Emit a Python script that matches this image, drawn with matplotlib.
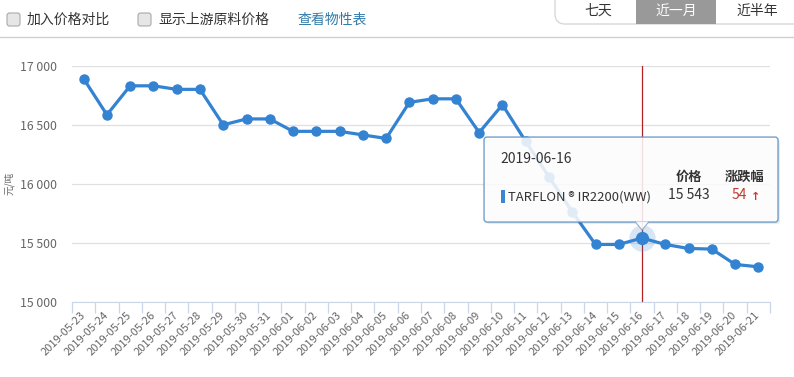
import matplotlib
matplotlib.use("Agg")
import matplotlib.pyplot as plt
from matplotlib.patches import FancyBboxPatch, Rectangle, Polygon

plt.rcParams['font.family'] = ['Noto Sans CJK SC', 'DejaVu Sans']

# 数据
dates = ["2019-05-23", "2019-05-24", "2019-05-25", "2019-05-26", "2019-05-27",
         "2019-05-28", "2019-05-29", "2019-05-30", "2019-05-31", "2019-06-01",
         "2019-06-02", "2019-06-03", "2019-06-04", "2019-06-05", "2019-06-06",
         "2019-06-07", "2019-06-08", "2019-06-09", "2019-06-10", "2019-06-11",
         "2019-06-12", "2019-06-13", "2019-06-14", "2019-06-15", "2019-06-16",
         "2019-06-17", "2019-06-18", "2019-06-19", "2019-06-20", "2019-06-21"]
prices = [16890, 16585, 16830, 16830, 16800, 16800, 16500, 16550, 16550, 16445,
          16445, 16445, 16415, 16385, 16690, 16720, 16720, 16435, 16670, 16360,
          16060, 15765, 15489, 15489, 15543, 15489, 15455, 15450, 15320, 15300]
yticks = [15000, 15500, 16000, 16500, 17000]
product = "TARFLON ® IR2200(WW)"
sel = 24  # 2019-06-16
change = prices[sel] - prices[sel - 1]

W, H = 794, 377
fig = plt.figure(figsize=(W / 100, H / 100), dpi=100)
fig.patch.set_facecolor("white")

blue = "#3482d2"
grey_txt = "#666666"

ax = fig.add_axes([72 / W, (H - 302.3) / H, 698 / W, 236.6 / H])
x = list(range(len(dates)))
ax.plot(x, prices, color=blue, lw=2.3, marker="o", ms=6.5, mfc=blue, mec=blue, zorder=3)
ax.set_xlim(-0.5, len(dates) - 0.5)
ax.set_ylim(15000, 17000)
ax.set_yticks(yticks)
ax.set_yticklabels([f"{v:,}".replace(",", " ") for v in yticks])
ax.tick_params(axis="y", length=0, pad=11, labelsize=8.8, labelcolor=grey_txt)
ax.grid(axis="y", color="#e0e0e0", lw=0.9)
ax.set_axisbelow(True)
for s in ["top", "right", "left"]:
    ax.spines[s].set_visible(False)
ax.spines["bottom"].set_color("#ccd6eb")
ax.set_xticks(x)
ax.set_xticklabels(dates, rotation=45, ha="right", va="center", rotation_mode="anchor")
ax.tick_params(axis="x", length=0, pad=8, labelsize=8, labelcolor=grey_txt)
ax.set_xticks([i - 0.5 for i in range(len(dates) + 1)], minor=True)
ax.tick_params(axis="x", which="minor", length=8, color="#ccd6eb", width=0.9)

# 十字线和高亮点
ax.axvline(sel, color="#b22222", lw=0.9, zorder=2)
ax.plot(sel, prices[sel], "o", ms=19, color=blue, alpha=0.2, mec="none", zorder=4)
ax.plot(sel, prices[sel], "o", ms=9.5, color=blue, mec="none", zorder=5)

# 覆盖层 (像素坐标)
ov = fig.add_axes([0, 0, 1, 1], zorder=10)
ov.set_xlim(0, W)
ov.set_ylim(H, 0)
ov.set_axis_off()
ov.patch.set_alpha(0)

ov.text(9, 183, "元/吨", fontsize=7, color=grey_txt, rotation=90, ha="center", va="center")

fig.canvas.draw()
px, py = ax.transData.transform((sel, prices[sel]))
py = H - py

# 顶部工具栏
for cx in [7, 138]:
    ov.add_patch(FancyBboxPatch((cx, 13), 13, 13, boxstyle="round,pad=0,rounding_size=2.5",
                                fc="#e6e6e6", ec="#a9a9a9", lw=0.8))
ov.text(27, 19.5, "加入价格对比", fontsize=10, color="#333333", va="center")
ov.text(158, 19.5, "显示上游原料价格", fontsize=10, color="#333333", va="center")
ov.text(297, 19.5, "查看物性表", fontsize=10, color="#2f7aa8", va="center")
ov.plot([0, W], [37, 37], color="#d0d0d0", lw=1)

ov.add_patch(FancyBboxPatch((555, -14), 260, 38, boxstyle="round,pad=0,rounding_size=10",
                            fc="white", ec="#d8d8d8", lw=1, clip_on=True))
ov.add_patch(Rectangle((636, -2), 80, 26, fc="#999999", ec="none"))
ov.text(598, 11, "七天", fontsize=10, color="#333333", ha="center", va="center")
ov.text(676, 11, "近一月", fontsize=10, color="white", ha="center", va="center")
ov.text(757, 11, "近半年", fontsize=10, color="#333333", ha="center", va="center")

# 提示框
tl, tr, tt, tb = px - 158, px + 136, py - 101, py - 16
ov.add_patch(FancyBboxPatch((tl + 2, tt + 2), tr - tl, tb - tt, boxstyle="round,pad=0,rounding_size=3",
                            fc="#000000", ec="none", alpha=0.08))
ov.add_patch(FancyBboxPatch((tl, tt), tr - tl, tb - tt, boxstyle="round,pad=0,rounding_size=3",
                            fc="white", ec="#5b8fc4", lw=1, alpha=0.86))
ov.add_patch(Polygon([(px - 7, tb - 0.5), (px, py - 8), (px + 7, tb - 0.5)], closed=False,
                     fc="white", ec="#8aa5c4", lw=0.8, alpha=0.9))
ov.text(tl + 16, tt + 22, dates[sel], fontsize=10, color="#333333", va="center")
ov.text(px + 47, tt + 40, "价格", fontsize=9.5, color="#333333", ha="center", va="center", fontweight="bold")
ov.text(px + 103, tt + 40, "涨跌幅", fontsize=9.5, color="#333333", ha="center", va="center", fontweight="bold")
ov.add_patch(Rectangle((tl + 17, tt + 53), 3.5, 13, fc="#3a86d2", ec="none"))
ov.text(tl + 24, tt + 60, product, fontsize=9.4, color="#333333", va="center")
ov.text(px + 47, tt + 58, f"{prices[sel]:,}".replace(",", " "), fontsize=10, color="#333333",
        ha="center", va="center")
ov.text(px + 90, tt + 58, f"{change}", fontsize=10, color="#c0392b", va="center")
ov.text(px + 114, tt + 60, "↑", fontsize=8, color="#e03030", va="center", ha="center",
        fontweight="bold", family=["DejaVu Sans"])

fig.savefig("out.png", dpi=100, facecolor="white")
